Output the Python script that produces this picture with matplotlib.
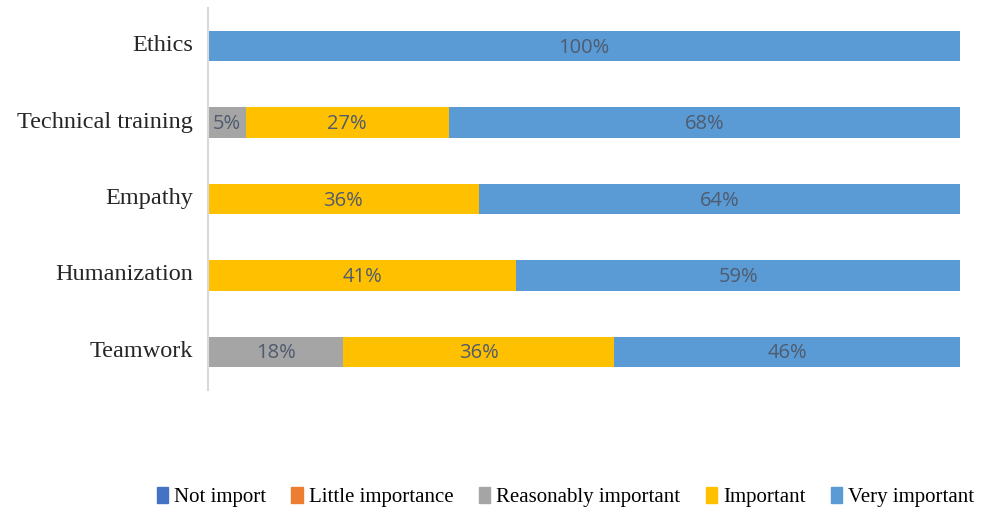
import numpy as np
import matplotlib.pyplot as plt

categories = ["Ethics", "Technical training", "Empathy", "Humanization", "Teamwork"]
series = ["Not import", "Little importance", "Reasonably important", "Important", "Very important"]
not_import = [0, 0, 0, 0, 0]
little = [0, 0, 0, 0, 0]
reasonably = [0, 5, 0, 0, 18]
important = [0, 27, 36, 41, 36]
very = [100, 68, 64, 59, 46]
colors = ["#4472C4", "#ED7D31", "#A5A5A5", "#FFC000", "#5B9BD5"]

values = [not_import, little, reasonably, important, very]

fig = plt.figure(figsize=(9.87, 5.09), dpi=100)
ax = fig.add_axes([0.2107, 0.2338, 0.762, 0.7505])

y = np.arange(len(categories))
left = np.zeros(len(categories))
for name, vals, col in zip(series, values, colors):
    vals = np.array(vals, dtype=float)
    bars = ax.barh(y, vals, left=left, height=0.4, color=col, label=name)
    for b, v in zip(bars, vals):
        if v > 0:
            ax.text(b.get_x() + b.get_width() / 2, b.get_y() + b.get_height() / 2 + 0.02,
                    f"{v:.0f}%", ha="center", va="center", fontsize=14.5,
                    color="#4F5B6E", family="Open Sans")
    left += vals

ax.set_xlim(0, 100)
ax.set_ylim(len(categories) - 0.5, -0.5)
ax.set_yticks(y - 0.04)
ax.set_yticklabels(categories, family="Liberation Serif", fontsize=17.5, color="#262626")
ax.tick_params(axis="y", length=0, pad=11)
ax.set_xticks([])
for s in ["top", "right", "bottom"]:
    ax.spines[s].set_visible(False)
ax.spines["left"].set_color("#D9D9D9")
ax.spines["left"].set_linewidth(1.5)

handles = [plt.Rectangle((0, 0), 1, 1, color=c) for c in colors]
fig.legend(handles, series, loc="center", bbox_to_anchor=(0.573, 0.023), ncol=5,
           frameon=False, prop={"family": "Liberation Serif", "size": 15},
           handlelength=0.55, handleheight=0.8, handletextpad=0.3, columnspacing=1.2)

fig.savefig("out.png", dpi=100)
